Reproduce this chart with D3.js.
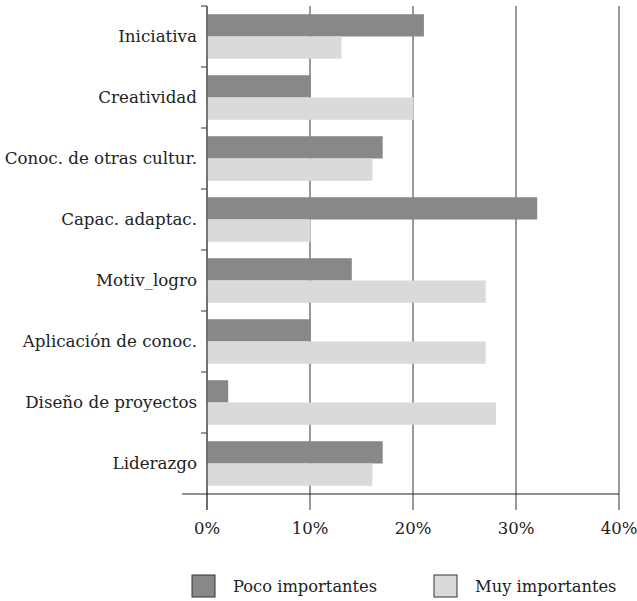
<!DOCTYPE html>
<html>
<head>
<meta charset="utf-8">
<script src="https://cdn.jsdelivr.net/npm/d3@7"></script>
<style>
  body { margin: 0; background: #fff; }
</style>
</head>
<body>
<div id="chart"></div>
<script>
// data
const categories = ["Iniciativa", "Creatividad", "Conoc. de otras cultur.", "Capac. adaptac.",
  "Motiv_logro", "Aplicación de conoc.", "Diseño de proyectos", "Liderazgo"];
const seriesNames = ["Poco importantes", "Muy importantes"];
const pocoValues = [21, 10, 17, 32, 14, 10, 2, 17];
const muyValues = [13, 20, 16, 10, 27, 27, 28, 16];
const tickValues = [0, 10, 20, 30, 40];

const colors = ["#87888a", "#d9dadc"];
const font = "'DejaVu Serif', serif";

const W = 637, H = 601;
const margin = {top: 6, left: 207, right: 18, bottom: 107};
const width = W - margin.left - margin.right,
      height = H - margin.top - margin.bottom;

const svg = d3.select("#chart").append("svg")
  .attr("width", W).attr("height", H)
  .attr("font-family", font);

const g = svg.append("g").attr("transform", `translate(${margin.left},${margin.top})`);

const x = d3.scaleLinear().domain([0, 40]).range([0, width]);
const y = d3.scaleBand().domain(categories).range([0, height]).paddingInner(0.27).paddingOuter(0.135);
const ySub = d3.scaleBand().domain(seriesNames).range([0, y.bandwidth()]);
const yStep = d3.scaleBand().domain(categories).range([0, height]);

// vertical gridlines (extend below the axis as ticks)
g.append("g").selectAll("line")
  .data(tickValues)
  .join("line")
    .attr("x1", d => x(d)).attr("x2", d => x(d))
    .attr("y1", 0).attr("y2", height + 16)
    .attr("stroke", "#555").attr("stroke-width", 1.2);

// bars
const rows = categories.map((c, i) => ({cat: c, vals: [pocoValues[i], muyValues[i]]}));
const grp = g.append("g").selectAll("g")
  .data(rows)
  .join("g")
    .attr("transform", d => `translate(0,${y(d.cat)})`);

grp.selectAll("rect")
  .data(d => d.vals.map((v, i) => ({key: seriesNames[i], v, i})))
  .join("rect")
    .attr("x", x(0) + 0.6)
    .attr("y", d => ySub(d.key))
    .attr("width", d => x(d.v) - x(0))
    .attr("height", ySub.bandwidth())
    .attr("fill", d => colors[d.i]);

// y axis line and category ticks
g.append("line")
  .attr("x1", 0).attr("x2", 0).attr("y1", 0).attr("y2", height + 16)
  .attr("stroke", "#555").attr("stroke-width", 1.2);
g.append("g").selectAll("line")
  .data(categories)
  .join("line")
    .attr("x1", -6).attr("x2", 0)
    .attr("y1", d => yStep(d)).attr("y2", d => yStep(d))
    .attr("stroke", "#555").attr("stroke-width", 1.2);

// x axis line
g.append("line")
  .attr("x1", -25).attr("x2", width)
  .attr("y1", height).attr("y2", height)
  .attr("stroke", "#222").attr("stroke-width", 1.2);

// category labels
g.append("g").selectAll("text")
  .data(categories)
  .join("text")
    .attr("x", -10)
    .attr("y", d => yStep(d) + yStep.bandwidth() / 2)
    .attr("dy", "0.35em")
    .attr("text-anchor", "end")
    .attr("font-size", 16.7)
    .attr("fill", "#222")
    .text(d => d);

// x tick labels
g.append("g").selectAll("text")
  .data(tickValues)
  .join("text")
    .attr("x", d => x(d))
    .attr("y", height + 40)
    .attr("text-anchor", "middle")
    .attr("font-size", 16.5)
    .attr("fill", "#222")
    .text(d => d + "%");

// legend
const legendX = [192, 434];
const leg = svg.append("g").selectAll("g")
  .data(seriesNames)
  .join("g")
    .attr("transform", (d, i) => `translate(${legendX[i]},575)`);
leg.append("rect")
  .attr("width", 23).attr("height", 22)
  .attr("fill", (d, i) => colors[i])
  .attr("stroke", "#333").attr("stroke-width", 1);
leg.append("text")
  .attr("x", 41).attr("y", 11).attr("dy", "0.35em")
  .attr("font-size", 16.3)
  .attr("fill", "#222")
  .text(d => d);
</script>
</body>
</html>
